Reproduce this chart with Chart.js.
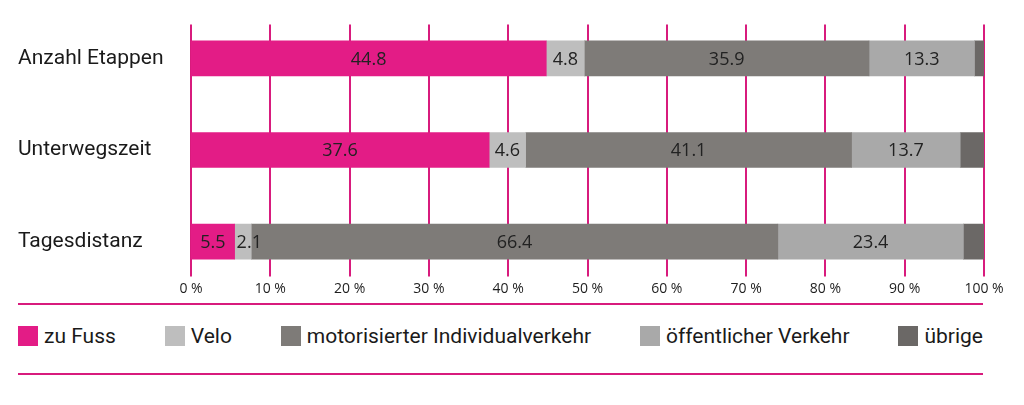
<!DOCTYPE html>
<html>
<head>
<meta charset="utf-8">
<script src="https://cdn.jsdelivr.net/npm/chart.js@4.4.0/dist/chart.umd.min.js"></script>
<style>
  html, body { margin: 0; padding: 0; background: #ffffff; }
  #wrap { position: relative; width: 1024px; height: 405px; overflow: hidden; }
  #chartBox { position: absolute; left: 0; top: 0; width: 1024px; height: 300px; }
  #legend {
    position: absolute; left: 18px; top: 303px; width: 965px; height: 62px;
    border-top: 2px solid #d81b7d; border-bottom: 2px solid #d81b7d;
    display: flex; justify-content: space-between; align-items: center;
    padding-bottom: 6px;
    font-family: Roboto, "Liberation Sans", sans-serif; font-size: 21px; color: #1a1a1a;
  }
  .item { display: flex; align-items: center; white-space: nowrap; }
  .box { width: 20px; height: 20px; margin-right: 6px; }
</style>
</head>
<body>
<div id="wrap">
  <div id="chartBox"><canvas id="c"></canvas></div>
  <div id="legend"></div>
</div>
<script>
const categories = ['Anzahl Etappen', 'Unterwegszeit', 'Tagesdistanz'];
const seriesNames = ['zu Fuss', 'Velo', 'motorisierter Individualverkehr', 'öffentlicher Verkehr', 'übrige'];
const zuFuss  = [44.8, 37.6, 5.5];
const velo    = [4.8, 4.6, 2.1];
const miv     = [35.9, 41.1, 66.4];
const oev     = [13.3, 13.7, 23.4];
const uebrige = [1.2, 3.0, 2.6];
const xTickValues = [0, 10, 20, 30, 40, 50, 60, 70, 80, 90, 100];
const xTickLabels = ['0 %', '10 %', '20 %', '30 %', '40 %', '50 %', '60 %', '70 %', '80 %', '90 %', '100 %'];
const labelledSeries = [true, true, true, true, false];

const colors = ['#e31c86', '#bebebe', '#7e7b78', '#a9a9a9', '#6b6866'];
const pink = '#d81b7d';
const seriesValues = [zuFuss, velo, miv, oev, uebrige];

const datasets = seriesNames.map((name, i) => ({
  label: name,
  data: seriesValues[i],
  backgroundColor: colors[i],
  borderWidth: 0,
  barThickness: 35,
  showLabel: labelledSeries[i]
}));

const gridPlugin = {
  id: 'gridPlugin',
  beforeDatasetsDraw(chart) {
    const xs = chart.scales.x, ys = chart.scales.y;
    const ctx = chart.ctx;
    const top = ys.getPixelForValue(0) - 34;
    const bottom = ys.getPixelForValue(categories.length - 1) + 35;
    ctx.save();
    ctx.strokeStyle = pink;
    ctx.lineWidth = 2;
    xs.ticks.forEach(t => {
      const x = Math.round(xs.getPixelForValue(t.value));
      ctx.beginPath();
      ctx.moveTo(x, top);
      ctx.lineTo(x, bottom);
      ctx.stroke();
    });
    ctx.restore();
  },
  afterDraw(chart) {
    const xs = chart.scales.x, ys = chart.scales.y;
    const ctx = chart.ctx;
    const y = ys.getPixelForValue(categories.length - 1) + 47;
    ctx.save();
    ctx.font = '14px "Open Sans", sans-serif';
    ctx.fillStyle = '#1e1e1e';
    ctx.textAlign = 'center';
    ctx.textBaseline = 'middle';
    xs.ticks.forEach((t) => {
      const idx = xTickValues.indexOf(t.value);
      ctx.fillText(xTickLabels[idx], xs.getPixelForValue(t.value), y);
    });
    ctx.restore();
  }
};

const valueLabelPlugin = {
  id: 'valueLabelPlugin',
  afterDatasetsDraw(chart) {
    const ctx = chart.ctx;
    ctx.save();
    ctx.font = '18px "Open Sans", sans-serif';
    ctx.fillStyle = '#222222';
    ctx.textAlign = 'center';
    ctx.textBaseline = 'middle';
    chart.data.datasets.forEach((ds, di) => {
      if (!ds.showLabel) return;
      const meta = chart.getDatasetMeta(di);
      meta.data.forEach((el, i) => {
        const p = el.getCenterPoint();
        const w = Math.abs(el.x - el.base);
        let x = p.x;
        const txt = ds.data[i].toFixed(1);
        const tw = ctx.measureText(txt).width;
        if (tw + 4 > w) x = Math.min(el.x, el.base) + tw / 2 + 2;
        ctx.fillText(txt, x, p.y + 1);
      });
    });
    ctx.restore();
  }
};

const chart = new Chart(document.getElementById('c'), {
  type: 'bar',
  data: { labels: categories, datasets },
  options: {
    indexAxis: 'y',
    responsive: true,
    maintainAspectRatio: false,
    animation: false,
    layout: { padding: { left: 18, right: 40, top: 11, bottom: 11 } },
    plugins: { legend: { display: false }, tooltip: { enabled: false } },
    scales: {
      x: {
        stacked: true,
        min: 0, max: 100,
        afterBuildTicks(scale) { scale.ticks = xTickValues.map(v => ({ value: v })); },
        grid: { display: false, drawTicks: false },
        border: { display: false },
        ticks: { display: false }
      },
      y: {
        stacked: true,
        grid: { display: false, drawTicks: false },
        border: { display: false },
        afterFit(scale) { scale.width = 173; },
        ticks: {
          crossAlign: 'far',
          padding: 0,
          color: '#1a1a1a',
          font: { family: 'Roboto, "Liberation Sans", sans-serif', size: 21 }
        }
      }
    }
  },
  plugins: [gridPlugin, valueLabelPlugin]
});

const legend = document.getElementById('legend');
chart.data.datasets.forEach(ds => {
  const item = document.createElement('div');
  item.className = 'item';
  const box = document.createElement('span');
  box.className = 'box';
  box.style.background = ds.backgroundColor;
  const txt = document.createElement('span');
  txt.textContent = ds.label;
  item.appendChild(box);
  item.appendChild(txt);
  legend.appendChild(item);
});
</script>
</body>
</html>
